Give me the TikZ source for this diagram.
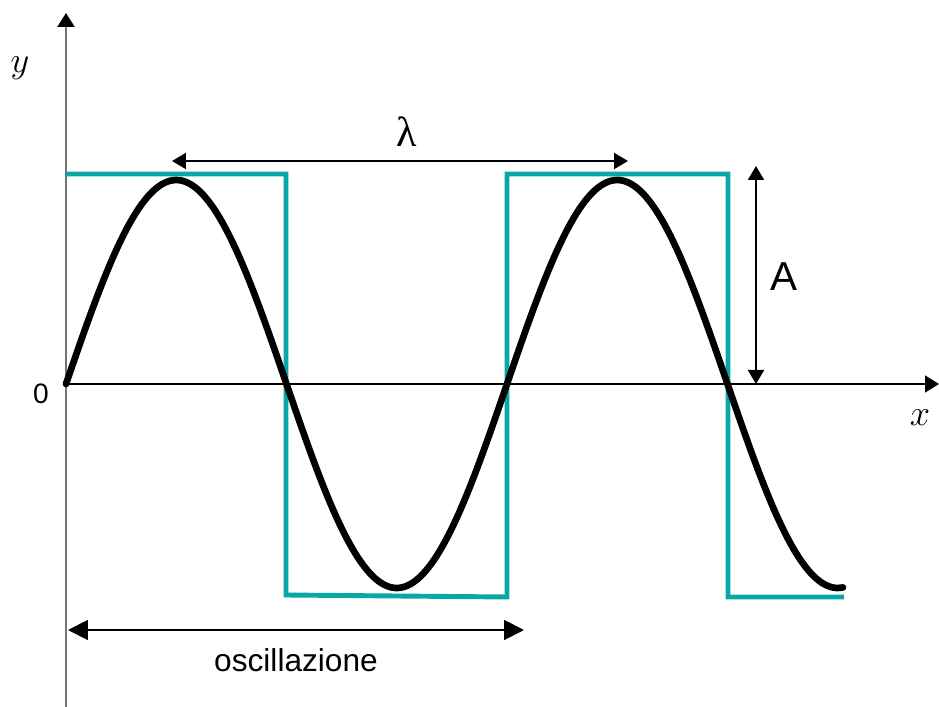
\documentclass[tikz,border=0pt]{standalone}
\usepackage{fontspec}
\setmainfont{Liberation Sans}
\newfontfamily\lamfont{Liberation Serif}
\usepackage{xcolor}
\usepackage{tikz}
\usetikzlibrary{arrows.meta,positioning}
\definecolor{waveteal}{RGB}{8,168,168}

\begin{document}
\begin{tikzpicture}[
    dim/.style={{Triangle[length=2.8mm,width=3.2mm]}-{Triangle[length=2.8mm,width=3.2mm]},line width=1.1pt},
    lbl/.style={inner sep=0pt,font=\fontsize{18}{20}\selectfont}]
  \useasboundingbox (-1.32,-6.46) rectangle (17.46,7.68);
  % axes
  \coordinate (o) at (0,0);
  \coordinate (ybot) at (0,-6.46);
  \coordinate (ytop) at (0,7.42);
  \coordinate (xend) at (17.46,0);
  \draw[black!55,line width=1.3pt,-{Triangle[length=2.8mm,width=3.4mm,black]}] (ybot) -- (ytop);
  \draw[line width=0.9pt,-{Triangle[length=2.8mm,width=3.4mm]}] (o) -- (xend);
  \node[inner sep=0pt,font=\fontsize{21}{23}\selectfont] (ylab) at (-0.92,6.32) {$y$};
  \node[inner sep=0pt,font=\fontsize{20}{22}\selectfont] (xlab) at (17.08,-0.68) {$x$};
  \node[inner sep=0pt,font=\fontsize{16}{18}\selectfont] (zero) at (-0.5,-0.2) {0};
  % square wave
  \draw[waveteal,line width=2.8pt,line join=miter]
    (0,4.2) -- (4.4,4.2) -- (4.4,-4.22) -- (8.82,-4.26) -- (8.82,4.2)
    -- (13.24,4.2) -- (13.24,-4.26) -- (15.56,-4.26);
  % sine wave
  \draw[line width=3.8pt,line cap=round,smooth,samples=150,domain=0:15.54]
    plot (\x,{4.08*sin(\x*360/8.82)});
  % wavelength
  \coordinate (lamL) at (2.12,4.46);
  \coordinate (lamR) at (11.24,4.46);
  \draw[dim] (lamL) -- (lamR);
  \node[inner sep=0pt,font=\fontsize{24}{26}\selectfont\lamfont] (lam) at (6.82,5.04) {λ};
  % amplitude
  \coordinate (ampT) at (13.8,4.36);
  \coordinate (ampB) at (13.8,0);
  \draw[dim] (ampT) -- (ampB);
  \node[inner sep=0pt,font=\fontsize{23}{25}\selectfont] (alab) at (14.36,2.14) {A};
  % one oscillation
  \coordinate (oscL) at (0.04,-4.92);
  \coordinate (oscR) at (9.16,-4.92);
  \draw[dim,{Triangle[length=4mm,width=4mm]}-{Triangle[length=4mm,width=4mm]}] (oscL) -- (oscR);
  \node[lbl] (osc) at (4.6,-5.52) {oscillazione};
\end{tikzpicture}
\end{document}
